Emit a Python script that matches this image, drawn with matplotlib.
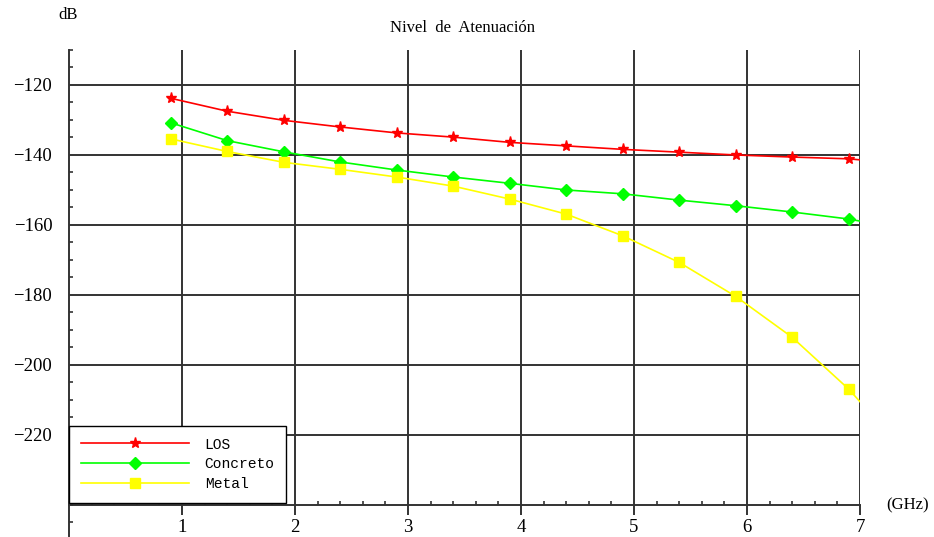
import matplotlib
matplotlib.use("Agg")
import matplotlib.pyplot as plt
from matplotlib.ticker import MultipleLocator

# frequencies (GHz): markers every 0.5 from 0.9, curve runs on to 7.0
freq = [0.9, 1.4, 1.9, 2.4, 2.9, 3.4, 3.9, 4.4, 4.9, 5.4, 5.9, 6.4, 6.9, 7.0]

los = [-123.8, -127.5, -130.1, -132.0, -133.7, -134.9, -136.4, -137.4,
       -138.4, -139.2, -140.0, -140.6, -141.1, -141.4]
concreto = [-130.8, -135.9, -139.1, -142.0, -144.3, -146.3, -148.1, -150.0,
            -151.1, -152.9, -154.5, -156.3, -158.3, -158.9]
metal = [-135.4, -139.0, -142.1, -144.1, -146.3, -148.9, -152.6, -156.9,
         -163.1, -170.7, -180.4, -192.1, -206.9, -210.5]

y_ticks = [-120, -140, -160, -180, -200, -220]
x_ticks = [1, 2, 3, 4, 5, 6, 7]

serif = "Liberation Serif"
gridc = "#333333"

fig = plt.figure(figsize=(9.34, 5.37), dpi=100)
ax = fig.add_axes([69 / 934, 0.001, 791 / 934, 486.5 / 537])
ax.set_xlim(0, 7)
ax.set_ylim(-249, -110)

# grid: horizontal via axis grid, vertical stopped at the x axis
ax.grid(axis="y", color=gridc, linewidth=1.4, zorder=1)
ax.vlines(x_ticks, -240, -110, color=gridc, linewidth=1.4, zorder=1)

marks = slice(0, 13)
ax.plot(freq, los, color="#ff0000", lw=1.2, marker="*", ms=8,
        markevery=marks, label="LOS", zorder=3)
ax.plot(freq, concreto, color="#00ff00", lw=1.2, marker="D", ms=6,
        markevery=marks, label="Concreto", zorder=3)
ax.plot(freq, metal, color="#ffff00", lw=1.2, marker="s", ms=7,
        markevery=marks, label="Metal", zorder=3)

for s in ["top", "right"]:
    ax.spines[s].set_visible(False)
ax.spines["bottom"].set_position(("data", -240))
ax.spines["left"].set_position(("data", 0))
for s in ["left", "bottom"]:
    ax.spines[s].set_color(gridc)
    ax.spines[s].set_linewidth(1.4)

ax.set_xticks(x_ticks)
ax.set_yticks(y_ticks)
ax.set_yticklabels(["\u2212%d" % abs(v) for v in y_ticks])
ax.xaxis.set_minor_locator(MultipleLocator(0.2))
ax.yaxis.set_minor_locator(MultipleLocator(5))
ax.tick_params(axis="x", which="major", direction="out", length=7,
               width=1.4, color=gridc, pad=3, labelsize=13.5)
ax.tick_params(axis="x", which="minor", direction="in", length=3,
               width=1.2, color=gridc)
ax.tick_params(axis="y", which="major", length=0, pad=12, labelsize=13.5)
ax.tick_params(axis="y", which="minor", direction="in", length=3,
               width=1.2, color=gridc)
for lab in ax.get_xticklabels() + ax.get_yticklabels():
    lab.set_family(serif)

leg = ax.legend(loc="lower left", bbox_to_anchor=(0, -239.4),
                bbox_transform=ax.transData, borderaxespad=0,
                prop={"family": "Liberation Mono", "size": 10.5},
                handlelength=7.4, handletextpad=1.1, labelspacing=0.4,
                borderpad=0.8, fancybox=False, framealpha=1,
                edgecolor="black")
leg.get_frame().set_linewidth(1.0)
leg.set_zorder(5)

fig.text(462 / 934, 1 - 28 / 537, "Nivel  de  Atenuaci\u00f3n", family=serif,
         fontsize=12, ha="center", va="center")
fig.text(68 / 934, 1 - 15 / 537, "dB", family=serif, fontsize=12,
         ha="center", va="center")
fig.text(908 / 934, 1 - 505 / 537, "(GHz)", family=serif, fontsize=12,
         ha="center", va="center")

fig.savefig("out.png", dpi=100)
